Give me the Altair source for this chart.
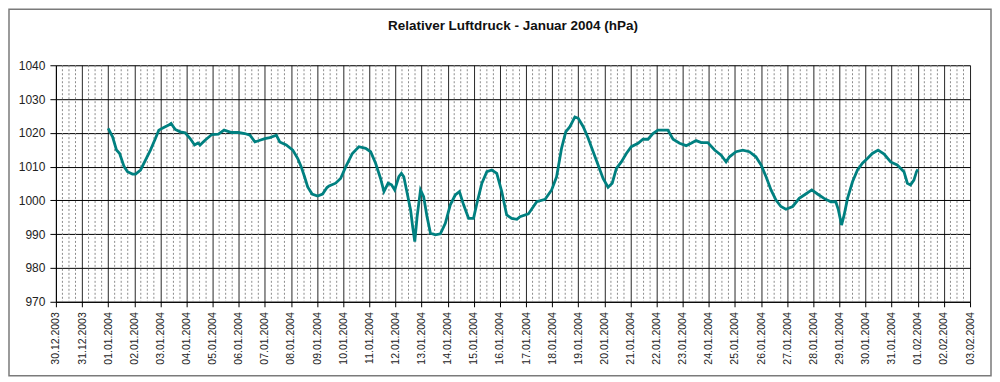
import altair as alt
import pandas as pd

# Day of January 2004 (1.0 = 01.01.2004 00:00) and relative air pressure (hPa)
day_of_jan = [
    1.00, 1.17, 1.32, 1.44, 1.61, 1.74, 1.93, 2.05, 2.24, 2.43, 2.62, 2.81, 2.94,
    3.13, 3.32, 3.41, 3.57, 3.76, 3.95, 4.14, 4.31, 4.44, 4.52, 4.71, 4.97, 5.22,
    5.44, 5.73, 5.98, 6.23, 6.43, 6.62, 6.81, 7.00, 7.19, 7.44, 7.57, 7.82, 8.07,
    8.26, 8.39, 8.52, 8.64, 8.81, 9.02, 9.21, 9.38, 9.46, 9.71, 9.90, 10.10, 10.35,
    10.60, 10.86, 11.05, 11.24, 11.43, 11.56, 11.72, 11.85, 11.97, 12.13, 12.23,
    12.32, 12.45, 12.58, 12.66, 12.74, 12.83, 12.96, 13.08, 13.21, 13.34, 13.53,
    13.72, 13.91, 14.10, 14.29, 14.45, 14.61, 14.80, 14.99, 15.12, 15.31, 15.50,
    15.69, 15.88, 16.07, 16.26, 16.45, 16.65, 16.77, 17.09, 17.41, 17.73, 17.98,
    18.17, 18.36, 18.52, 18.68, 18.87, 19.00, 19.19, 19.38, 19.57, 19.76, 19.95,
    20.14, 20.30, 20.46, 20.65, 20.84, 21.03, 21.29, 21.48, 21.67, 21.86, 22.05,
    22.31, 22.43, 22.63, 22.88, 23.13, 23.32, 23.51, 23.71, 23.96, 24.22, 24.47,
    24.66, 24.79, 25.04, 25.30, 25.55, 25.80, 26.00, 26.19, 26.38, 26.57, 26.76,
    26.95, 27.21, 27.46, 27.71, 27.94, 28.16, 28.41, 28.67, 28.86, 28.96, 29.08,
    29.18, 29.31, 29.50, 29.69, 29.88, 30.07, 30.26, 30.48, 30.71, 30.96, 31.21,
    31.47, 31.60, 31.72, 31.85, 31.95, 32.00,
]
pressure_hpa = [
    1021.3, 1018.8, 1014.9, 1013.9, 1010.0, 1008.5, 1007.8, 1007.8, 1009.0, 1011.9,
    1014.9, 1018.3, 1020.8, 1021.6, 1022.3, 1022.8, 1021.0, 1020.3, 1020.0, 1018.3,
    1016.4, 1017.0, 1016.4, 1017.8, 1019.5, 1019.6, 1020.8, 1020.1, 1020.1, 1019.8,
    1019.3, 1017.3, 1017.8, 1018.3, 1018.6, 1019.3, 1017.3, 1016.4, 1014.9, 1012.4,
    1010.0, 1007.0, 1004.0, 1001.9, 1001.3, 1001.9, 1003.8, 1004.3, 1005.1, 1006.5,
    1010.0, 1013.9, 1015.9, 1015.4, 1014.4, 1011.0, 1006.5, 1002.6, 1005.1, 1004.6,
    1003.1, 1007.0, 1008.0, 1007.0, 1002.1, 997.2, 992.2, 987.8, 995.2, 1003.1,
    1001.1, 995.2, 990.3, 989.8, 990.1, 993.2, 998.7, 1001.6, 1002.6, 998.7,
    994.7, 994.7, 999.2, 1005.1, 1008.5, 1009.0, 1008.0, 1002.6, 995.7, 994.7,
    994.4, 995.2, 996.0, 999.6, 1000.3, 1003.1, 1007.0, 1015.4, 1020.3, 1021.8,
    1024.7, 1024.3, 1021.8, 1018.4, 1014.4, 1010.5, 1006.5, 1003.9, 1005.1, 1009.5,
    1011.4, 1013.9, 1015.9, 1016.9, 1018.1, 1018.1, 1019.8, 1020.8, 1020.8, 1020.8,
    1018.1, 1016.9, 1016.2, 1016.9, 1017.7, 1017.1, 1017.1, 1014.9, 1013.4, 1011.4,
    1012.9, 1014.4, 1014.9, 1014.4, 1012.9, 1010.5, 1007.0, 1003.1, 1000.1, 998.2,
    997.4, 998.2, 1000.6, 1001.9, 1003.1, 1001.9, 1000.6, 999.6, 999.6, 997.2,
    992.7, 995.7, 1000.6, 1005.5, 1009.0, 1011.0, 1012.4, 1013.9, 1014.9, 1013.7,
    1011.4, 1010.5, 1008.5, 1005.1, 1004.6, 1006.0, 1008.5, 1009.2,
]
y_ticks = [970, 980, 990, 1000, 1010, 1020, 1030, 1040]
title_text = "Relativer Luftdruck - Januar 2004 (hPa)"
x_start = "2003-12-30"
x_end = "2004-02-03"

FONT = "Liberation Sans"
W, H = 916, 237

base = pd.Timestamp("2004-01-01")
times = [(base + pd.Timedelta(days=d - 1)).round("min").strftime("%Y-%m-%dT%H:%M:%S")
         for d in day_of_jan]
df = pd.DataFrame({"t": times, "p": pressure_hpa})

days = pd.date_range(x_start, x_end, freq="D")
tick_values = [alt.DateTime(year=d.year, month=d.month, date=d.day) for d in days]
minor = [ts.strftime("%Y-%m-%dT%H:%M:%S")
         for ts in pd.date_range(x_start, x_end, freq="6h") if ts.hour != 0]
minor_df = pd.DataFrame({"t": minor})

xscale = alt.Scale(domain=[tick_values[0], tick_values[-1]])
yscale = alt.Scale(domain=[970, 1040], nice=False, zero=False)

x_axis = alt.Axis(
    values=tick_values, format="%d.%m.%Y", labelAngle=270, labelFlush=False,
    labelOverlap=False, labelFontSize=10.5, labelFont=FONT, labelColor="#222",
    tickSize=5, tickColor="#000", domainColor="#000", gridColor="#000",
    gridWidth=1, gridOpacity=0.85, labelPadding=5, title=None)
y_axis = alt.Axis(
    values=y_ticks, format="d", labelFontSize=12, labelFont=FONT, labelColor="#222",
    tickSize=6, tickColor="#000", domainColor="#000", gridColor="#000",
    gridWidth=1, labelPadding=5, title=None)

border = alt.Chart(pd.DataFrame({"a": [0]})).mark_rect(
    fillOpacity=0, stroke="#7a7a7a", strokeWidth=1.5
).encode(
    x=alt.value(-47), x2=alt.value(937), y=alt.value(-56), y2=alt.value(311)
)

minor_grid = alt.Chart(minor_df).mark_rule(
    color="#8c8c8c", strokeWidth=1, strokeDash=[2, 2]
).encode(
    x=alt.X("t:T", scale=xscale, axis=x_axis)
)

line = alt.Chart(df).mark_line(color="#008080", strokeWidth=2.8).encode(
    x=alt.X("t:T", scale=xscale, axis=x_axis),
    y=alt.Y("p:Q", scale=yscale, axis=y_axis),
)

chart = alt.layer(border, minor_grid, line).properties(
    width=W, height=H,
    title=alt.TitleParams(title_text, font=FONT, fontSize=13.5, fontWeight="bold",
                          color="#111", anchor="middle", frame="group", offset=-24),
    autosize=alt.AutoSizeParams(type="none"),
    padding={"left": 48, "top": 57, "right": 22, "bottom": 75},
).configure_view(
    fill="#FFFFC4", stroke="#555", strokeWidth=1
).configure(
    background="white", font=FONT
)

chart.save("out.html", embed_options={"renderer": "svg", "actions": False})
